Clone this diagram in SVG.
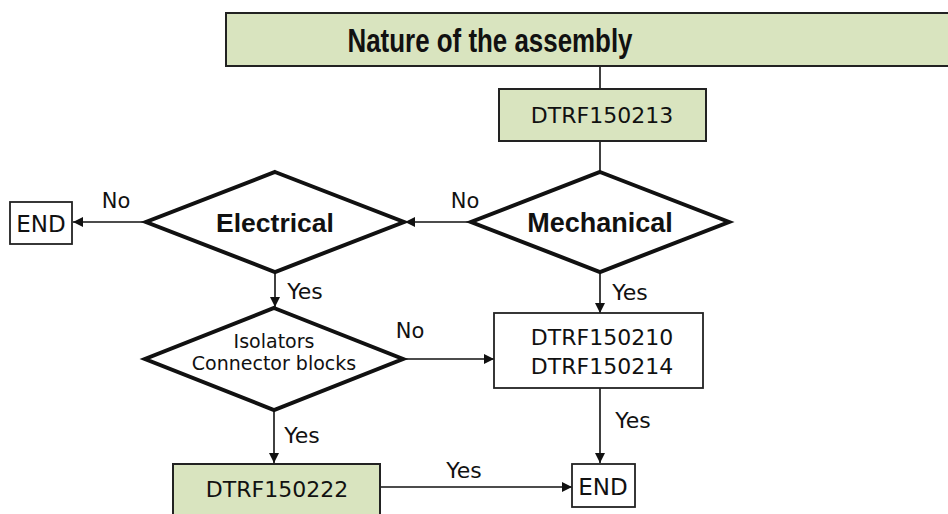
<svg xmlns="http://www.w3.org/2000/svg" width="948" height="514" viewBox="0 0 948 514">
<style>
.t{font-family:"DejaVu Sans","Liberation Sans",sans-serif;fill:#111;text-anchor:middle}
.b{font-family:"Liberation Sans","DejaVu Sans",sans-serif;font-weight:bold;fill:#111;text-anchor:middle}
.g{fill:#d9e4bf;stroke:#222;stroke-width:2}
.w{fill:#fff;stroke:#222;stroke-width:1.8}
.d{fill:#fff;stroke:#111;stroke-width:4;stroke-linejoin:miter}
.c{fill:none;stroke:#111;stroke-width:1.6}
</style>
<defs>
<marker id="ar" viewBox="0 0 10 10" refX="10" refY="5" markerWidth="10" markerHeight="10" markerUnits="userSpaceOnUse" orient="auto">
<path d="M0,0 L10,5 L0,10 z" fill="#111"/>
</marker>
</defs>
<rect width="948" height="514" fill="#fff"/>
<g id="connectors">
<line class="c" x1="600" y1="66" x2="600" y2="89"/>
<line class="c" x1="600" y1="141" x2="600" y2="172"/>
<line class="c" x1="470" y1="222" x2="405" y2="222" marker-end="url(#ar)"/>
<line class="c" x1="147" y1="222" x2="73" y2="222" marker-end="url(#ar)"/>
<line class="c" x1="275" y1="272" x2="275" y2="307" marker-end="url(#ar)"/>
<line class="c" x1="600" y1="272" x2="600" y2="313" marker-end="url(#ar)"/>
<line class="c" x1="403" y1="359" x2="494" y2="359" marker-end="url(#ar)"/>
<line class="c" x1="600" y1="388" x2="600" y2="463" marker-end="url(#ar)"/>
<line class="c" x1="274" y1="410" x2="274" y2="463" marker-end="url(#ar)"/>
<line class="c" x1="380" y1="487" x2="572" y2="487" marker-end="url(#ar)"/>
<text class="t" x="116" y="208" font-size="21">No</text>
<text class="t" x="465" y="208" font-size="21">No</text>
<text class="t" x="305" y="299" font-size="22">Yes</text>
<text class="t" x="630" y="300" font-size="22">Yes</text>
<text class="t" x="410" y="338" font-size="21">No</text>
<text class="t" x="633" y="428" font-size="22">Yes</text>
<text class="t" x="302" y="443" font-size="22">Yes</text>
<text class="t" x="464" y="478" font-size="22">Yes</text>
</g>
<g id="title">
<rect class="g" x="226" y="13" width="730" height="53"/>
<text class="b" x="490" y="52" font-size="33" textLength="285" lengthAdjust="spacingAndGlyphs">Nature of the assembly</text>
</g>
<g id="dtrf150213">
<rect class="g" x="499" y="89" width="207" height="52"/>
<text class="t" x="602" y="123" font-size="22">DTRF150213</text>
</g>
<g id="mechanical">
<polygon class="d" points="600,172 729,222 600,272 471,222"/>
<text class="b" x="600" y="232" font-size="27">Mechanical</text>
</g>
<g id="electrical">
<polygon class="d" points="275,172 404,222 275,272 146,222"/>
<text class="b" x="275" y="232" font-size="26.5">Electrical</text>
</g>
<g id="end1">
<rect class="w" x="10" y="202" width="62" height="42"/>
<text class="t" x="41" y="232" font-size="23">END</text>
</g>
<g id="isolators">
<polygon class="d" points="274,308 403,359 274,410 145,359"/>
<text class="t" x="274" y="348" font-size="19">Isolators</text>
<text class="t" x="274" y="370" font-size="19">Connector blocks</text>
</g>
<g id="dtrf150210">
<rect class="w" x="494" y="313" width="209" height="75"/>
<text class="t" x="602" y="345" font-size="22">DTRF150210</text>
<text class="t" x="602" y="374" font-size="22">DTRF150214</text>
</g>
<g id="dtrf150222">
<rect class="g" x="173" y="464" width="207" height="60"/>
<text class="t" x="277" y="497" font-size="22">DTRF150222</text>
</g>
<g id="end2">
<rect class="w" x="572" y="464" width="63" height="43"/>
<text class="t" x="603" y="495" font-size="23">END</text>
</g>
</svg>
